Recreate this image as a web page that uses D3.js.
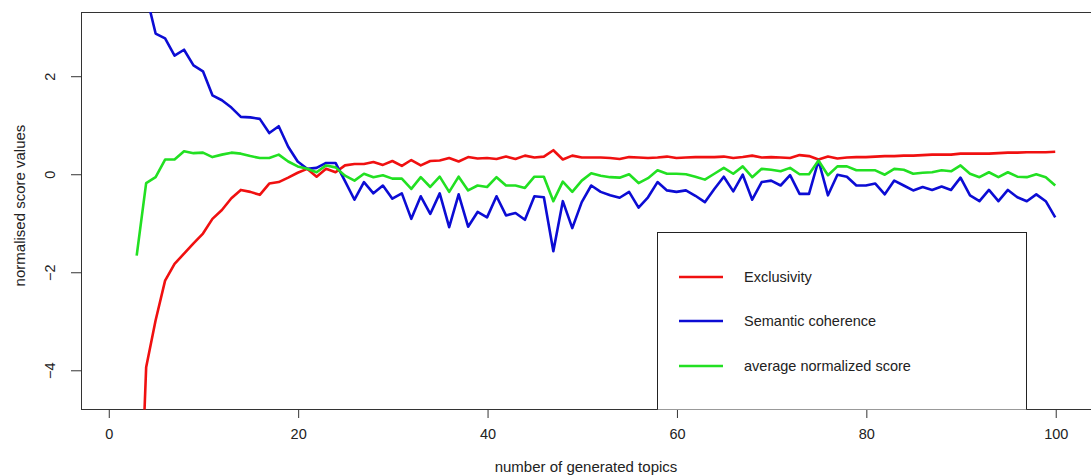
<!DOCTYPE html>
<html>
<head>
<meta charset="utf-8">
<script src="https://cdn.jsdelivr.net/npm/d3@7"></script>
<style>
  html, body { margin: 0; padding: 0; background: #fff; }
  svg { display: block; }
  text { font-family: "Liberation Sans", Arial, sans-serif; fill: #222; }
</style>
</head>
<body>
<svg id="chart" width="1091" height="476"></svg>
<script>
// Number of generated topics (x values)
const topics = d3.range(3, 101);

// Exclusivity (normalised)
const exclusivity = [
  -9.0, -3.95, -2.99, -2.18, -1.84, -1.63, -1.42, -1.22, -0.92, -0.74,
  -0.50, -0.33, -0.37, -0.43, -0.20, -0.17, -0.08, 0.02, 0.10, -0.06,
  0.10, 0.03, 0.17, 0.20, 0.20, 0.24, 0.18, 0.26, 0.16, 0.28,
  0.17, 0.26, 0.27, 0.32, 0.25, 0.34, 0.31, 0.32, 0.30, 0.35,
  0.30, 0.37, 0.33, 0.35, 0.48, 0.29, 0.37, 0.33, 0.33, 0.33,
  0.32, 0.30, 0.34, 0.33, 0.32, 0.33, 0.35, 0.32, 0.33, 0.34,
  0.34, 0.34, 0.35, 0.32, 0.34, 0.37, 0.33, 0.34, 0.33, 0.32,
  0.38, 0.36, 0.29, 0.35, 0.31, 0.33, 0.34, 0.34, 0.35, 0.36,
  0.36, 0.37, 0.37, 0.38, 0.39, 0.39, 0.39, 0.41, 0.41, 0.41,
  0.41, 0.42, 0.43, 0.43, 0.44, 0.44, 0.44, 0.45
];

// Semantic coherence (normalised)
const coherence = [
  4.70, 3.66, 2.86, 2.76, 2.41, 2.53, 2.21, 2.09, 1.60, 1.50,
  1.35, 1.16, 1.15, 1.12, 0.83, 0.97, 0.55, 0.25, 0.10, 0.12,
  0.22, 0.22, -0.15, -0.53, -0.17, -0.40, -0.24, -0.51, -0.40, -0.92,
  -0.46, -0.82, -0.40, -1.09, -0.42, -1.08, -0.78, -0.89, -0.46, -0.85,
  -0.80, -0.94, -0.46, -0.48, -1.58, -0.56, -1.11, -0.58, -0.24, -0.37,
  -0.44, -0.49, -0.37, -0.69, -0.48, -0.17, -0.34, -0.37, -0.34, -0.45,
  -0.58, -0.31, -0.06, -0.36, -0.02, -0.53, -0.17, -0.14, -0.24, -0.03,
  -0.41, -0.41, 0.27, -0.44, -0.02, -0.06, -0.24, -0.24, -0.20, -0.42,
  -0.14, -0.24, -0.34, -0.27, -0.33, -0.26, -0.33, -0.08, -0.44, -0.56,
  -0.33, -0.56, -0.33, -0.48, -0.56, -0.42, -0.56, -0.89
];

// Average normalized score
const averageScore = [
  -1.67, -0.19, -0.07, 0.29, 0.29, 0.46, 0.42, 0.43, 0.34, 0.39,
  0.43, 0.41, 0.36, 0.32, 0.32, 0.39, 0.25, 0.15, 0.10, 0.03,
  0.17, 0.13, -0.04, -0.14, 0.00, -0.07, -0.03, -0.10, -0.10, -0.31,
  -0.07, -0.27, -0.06, -0.37, -0.06, -0.34, -0.24, -0.27, -0.07, -0.24,
  -0.24, -0.29, -0.06, -0.06, -0.56, -0.16, -0.37, -0.14, 0.01, -0.04,
  -0.07, -0.08, -0.01, -0.19, -0.09, 0.07, 0.00, 0.00, -0.01, -0.06,
  -0.12, 0.00, 0.12, 0.00, 0.15, -0.07, 0.10, 0.08, 0.05, 0.12,
  -0.01, -0.01, 0.27, -0.03, 0.15, 0.15, 0.07, 0.07, 0.07, -0.02,
  0.10, 0.08, 0.00, 0.02, 0.03, 0.07, 0.05, 0.17, 0.00, -0.07,
  0.03, -0.07, 0.03, -0.06, -0.07, -0.01, -0.07, -0.24
];

const xTicks = [0, 20, 40, 60, 80, 100];
const yTicks = [-4, -2, 0, 2];

const seriesNames = ["Exclusivity", "Semantic coherence", "average normalized score"];
const seriesColors = ["#f01010", "#0c0cd4", "#22e022"];
const seriesValues = [exclusivity, coherence, averageScore];

const svg = d3.select("#chart");

// Plot region (the frame runs past the right edge of the canvas)
const plot = { left: 81, top: 12, right: 1095, bottom: 409 };

const x = d3.scaleLinear().domain([-2.88, 104.2]).range([plot.left, plot.right]);
const y = d3.scaleLinear().domain([-4.8, 3.3]).range([plot.bottom, plot.top]);

svg.append("defs").append("clipPath").attr("id", "plotClip")
  .append("rect")
  .attr("x", plot.left).attr("y", plot.top)
  .attr("width", plot.right - plot.left)
  .attr("height", plot.bottom - plot.top + 0.5);

// Frame
svg.append("rect")
  .attr("x", plot.left + 0.5).attr("y", plot.top + 0.5)
  .attr("width", plot.right - plot.left)
  .attr("height", plot.bottom - plot.top)
  .attr("fill", "none").attr("stroke", "#333").attr("stroke-width", 1);

// X axis
const xAxis = d3.axisBottom(x).tickValues(xTicks).tickSize(8.5).tickPadding(11).tickFormat(d3.format("d"));
const gx = svg.append("g").attr("transform", `translate(0.5,${plot.bottom + 0.5})`).call(xAxis);
gx.select(".domain").remove();
gx.selectAll(".tick line").attr("stroke", "#333");
gx.selectAll(".tick text").style("font-size", "14.5px").attr("fill", "#222");

// Y axis with rotated labels
const yAxis = d3.axisLeft(y).tickValues(yTicks).tickSize(10.5).tickFormat(d3.format("d"));
const gy = svg.append("g").attr("transform", `translate(${plot.left + 0.5},0.5)`).call(yAxis);
gy.select(".domain").remove();
gy.selectAll(".tick line").attr("stroke", "#333");
gy.selectAll(".tick text")
  .attr("x", null).attr("dy", null)
  .attr("transform", "translate(-32,0) rotate(-90)")
  .attr("text-anchor", "middle")
  .attr("dominant-baseline", "central")
  .style("font-size", "14.5px").attr("fill", "#222");

// Axis titles
svg.append("text")
  .attr("x", 586).attr("y", 472)
  .attr("text-anchor", "middle")
  .style("font-size", "15px")
  .text("number of generated topics");

svg.append("text")
  .attr("transform", `translate(19,${(plot.top + plot.bottom) / 2 - 5}) rotate(-90)`)
  .attr("text-anchor", "middle")
  .attr("dominant-baseline", "central")
  .style("font-size", "15px")
  .text("normalised score values");

// Series lines
const line = d3.line().x((d, i) => x(topics[i])).y(d => y(d));
const lines = svg.append("g").attr("clip-path", "url(#plotClip)");
seriesValues.forEach((vals, k) => {
  lines.append("path")
    .datum(vals)
    .attr("d", line)
    .attr("fill", "none")
    .attr("stroke", seriesColors[k])
    .attr("stroke-width", 2.6)
    .attr("stroke-linejoin", "round");
});

// Legend (box clipped at the bottom of the plot region)
const legend = svg.append("g").attr("clip-path", "url(#plotClip)");
legend.append("rect")
  .attr("x", 657.5).attr("y", 232.5)
  .attr("width", 369).attr("height", 230)
  .attr("fill", "#fff").attr("stroke", "#222").attr("stroke-width", 1);

const legendY = [277, 321, 366];
seriesNames.forEach((name, k) => {
  legend.append("line")
    .attr("x1", 679).attr("x2", 723)
    .attr("y1", legendY[k]).attr("y2", legendY[k])
    .attr("stroke", seriesColors[k]).attr("stroke-width", 2.6);
  legend.append("text")
    .attr("x", 744).attr("y", legendY[k])
    .attr("dominant-baseline", "central")
    .style("font-size", "14.5px")
    .text(name);
});
</script>
</body>
</html>
